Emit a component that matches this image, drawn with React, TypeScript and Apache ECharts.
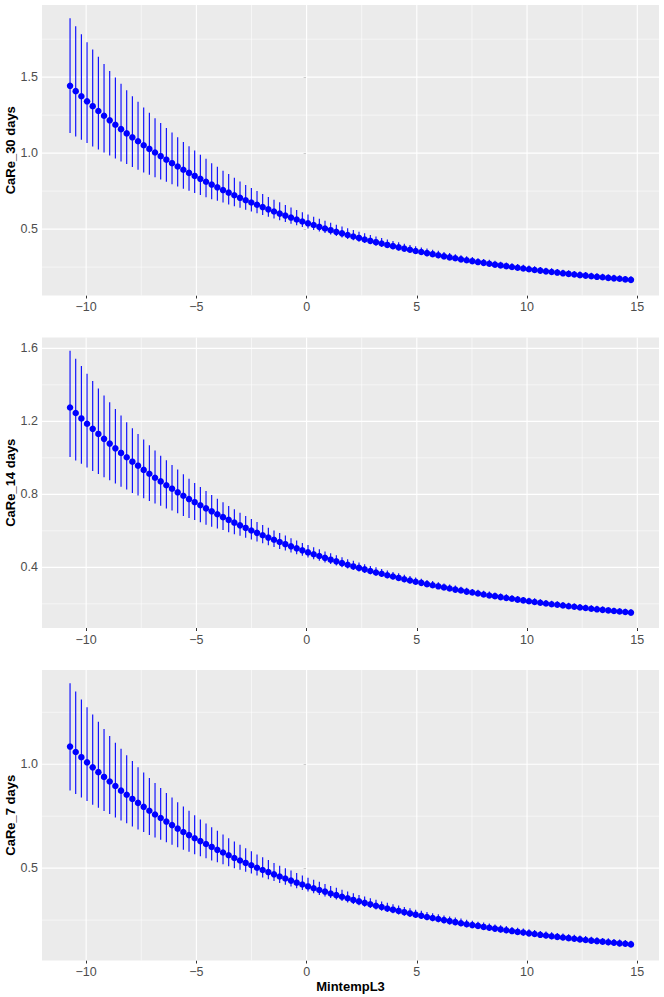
import React, { useEffect, useRef } from "react";
import * as echarts from "echarts";

const xValues = [
  -10.73, -10.473, -10.216, -9.959, -9.702, -9.445, -9.188, -8.931, -8.674, -8.417,
  -8.16, -7.903, -7.646, -7.389, -7.132, -6.875, -6.618, -6.361, -6.104, -5.847,
  -5.59, -5.333, -5.076, -4.819, -4.562, -4.305, -4.048, -3.791, -3.534, -3.277,
  -3.02, -2.763, -2.506, -2.249, -1.992, -1.735, -1.478, -1.221, -0.964, -0.707,
  -0.45, -0.193, 0.064, 0.321, 0.578, 0.835, 1.092, 1.349, 1.606, 1.863,
  2.12, 2.377, 2.634, 2.891, 3.148, 3.405, 3.662, 3.919, 4.176, 4.433,
  4.69, 4.947, 5.204, 5.461, 5.718, 5.975, 6.232, 6.489, 6.746, 7.003,
  7.26, 7.517, 7.774, 8.031, 8.288, 8.545, 8.802, 9.059, 9.316, 9.573,
  9.83, 10.087, 10.344, 10.601, 10.858, 11.115, 11.372, 11.629, 11.886, 12.143,
  12.4, 12.657, 12.914, 13.171, 13.428, 13.685, 13.942, 14.199, 14.456, 14.713,
];

const care30Mean = [
  1.443, 1.408, 1.374, 1.341, 1.309, 1.277, 1.246, 1.216, 1.187, 1.158, 1.13,
  1.104, 1.078, 1.052, 1.028, 1.004, 0.98, 0.957, 0.934, 0.912, 0.891,
  0.87, 0.85, 0.831, 0.812, 0.793, 0.775, 0.757, 0.74, 0.723, 0.706,
  0.69, 0.675, 0.66, 0.645, 0.63, 0.616, 0.602, 0.589, 0.576, 0.563,
  0.55, 0.538, 0.527, 0.515, 0.504, 0.493, 0.482, 0.472, 0.461, 0.451,
  0.442, 0.432, 0.423, 0.414, 0.405, 0.396, 0.388, 0.38, 0.372, 0.364,
  0.356, 0.349, 0.342, 0.335, 0.328, 0.321, 0.314, 0.308, 0.301, 0.295,
  0.289, 0.283, 0.278, 0.272, 0.266, 0.261, 0.256, 0.251, 0.246, 0.241,
  0.236, 0.231, 0.227, 0.222, 0.218, 0.214, 0.209, 0.205, 0.201, 0.197,
  0.194, 0.19, 0.186, 0.183, 0.179, 0.176, 0.173, 0.169, 0.166,
];
const care30Upper = [
  1.888, 1.835, 1.783, 1.73, 1.682, 1.634, 1.587, 1.541, 1.498, 1.456, 1.414,
  1.375, 1.338, 1.3, 1.265, 1.23, 1.199, 1.166, 1.136, 1.105, 1.074,
  1.046, 1.017, 0.989, 0.963, 0.934, 0.91, 0.884, 0.862, 0.838, 0.813,
  0.791, 0.77, 0.75, 0.731, 0.712, 0.694, 0.676, 0.659, 0.642, 0.626,
  0.611, 0.596, 0.582, 0.568, 0.555, 0.542, 0.529, 0.517, 0.505, 0.494,
  0.483, 0.472, 0.461, 0.451, 0.441, 0.432, 0.422, 0.413, 0.404, 0.396,
  0.388, 0.379, 0.372, 0.364, 0.357, 0.349, 0.342, 0.335, 0.328, 0.322,
  0.316, 0.309, 0.303, 0.298, 0.292, 0.286, 0.281, 0.275, 0.27, 0.265,
  0.26, 0.255, 0.251, 0.246, 0.242, 0.237, 0.233, 0.229, 0.225, 0.221,
  0.217, 0.213, 0.209, 0.206, 0.202, 0.199, 0.195, 0.192, 0.189,
];
const care30Lower = [
  1.132, 1.11, 1.088, 1.066, 1.044, 1.024, 1.004, 0.985, 0.965, 0.945, 0.928,
  0.908, 0.89, 0.873, 0.857, 0.842, 0.827, 0.811, 0.796, 0.781, 0.765,
  0.752, 0.737, 0.724, 0.71, 0.697, 0.686, 0.675, 0.662, 0.651, 0.64,
  0.628, 0.616, 0.605, 0.593, 0.581, 0.57, 0.558, 0.547, 0.536, 0.525,
  0.514, 0.504, 0.494, 0.484, 0.474, 0.464, 0.454, 0.444, 0.435, 0.426,
  0.417, 0.408, 0.4, 0.391, 0.383, 0.375, 0.367, 0.359, 0.351, 0.344,
  0.336, 0.329, 0.322, 0.316, 0.309, 0.302, 0.296, 0.29, 0.283, 0.277,
  0.271, 0.266, 0.26, 0.255, 0.249, 0.244, 0.239, 0.234, 0.229, 0.224,
  0.219, 0.215, 0.21, 0.206, 0.201, 0.197, 0.193, 0.189, 0.185, 0.181,
  0.177, 0.174, 0.17, 0.167, 0.163, 0.16, 0.156, 0.153, 0.15,
];

const care14Mean = [
  1.276, 1.246, 1.216, 1.187, 1.159, 1.131, 1.104, 1.078, 1.052, 1.027, 1.003,
  0.979, 0.957, 0.934, 0.913, 0.891, 0.871, 0.85, 0.831, 0.811, 0.792,
  0.774, 0.757, 0.74, 0.723, 0.707, 0.691, 0.675, 0.66, 0.645, 0.63,
  0.616, 0.602, 0.589, 0.576, 0.563, 0.551, 0.539, 0.527, 0.515, 0.504,
  0.493, 0.482, 0.472, 0.462, 0.452, 0.442, 0.433, 0.423, 0.414, 0.405,
  0.397, 0.389, 0.38, 0.372, 0.365, 0.357, 0.35, 0.342, 0.335, 0.328,
  0.321, 0.315, 0.308, 0.302, 0.296, 0.29, 0.284, 0.278, 0.273, 0.267,
  0.262, 0.257, 0.251, 0.246, 0.242, 0.237, 0.232, 0.228, 0.223, 0.219,
  0.214, 0.21, 0.206, 0.202, 0.198, 0.195, 0.191, 0.187, 0.184, 0.18,
  0.177, 0.173, 0.17, 0.167, 0.164, 0.161, 0.158, 0.155, 0.152,
];
const care14Upper = [
  1.587, 1.543, 1.503, 1.461, 1.421, 1.38, 1.342, 1.305, 1.267, 1.232, 1.195,
  1.162, 1.13, 1.1, 1.069, 1.04, 1.012, 0.987, 0.961, 0.936, 0.91,
  0.886, 0.862, 0.84, 0.818, 0.796, 0.776, 0.756, 0.736, 0.718, 0.699,
  0.682, 0.665, 0.648, 0.632, 0.617, 0.602, 0.588, 0.574, 0.56, 0.547,
  0.534, 0.522, 0.51, 0.499, 0.487, 0.477, 0.466, 0.455, 0.445, 0.436,
  0.426, 0.417, 0.408, 0.4, 0.391, 0.383, 0.375, 0.367, 0.359, 0.352,
  0.345, 0.338, 0.331, 0.325, 0.318, 0.312, 0.306, 0.3, 0.294, 0.288,
  0.282, 0.277, 0.272, 0.267, 0.262, 0.257, 0.252, 0.247, 0.243, 0.238,
  0.234, 0.23, 0.225, 0.221, 0.217, 0.214, 0.21, 0.206, 0.202, 0.199,
  0.195, 0.192, 0.189, 0.186, 0.182, 0.179, 0.176, 0.173, 0.17,
];
const care14Lower = [
  1.005, 0.986, 0.967, 0.947, 0.928, 0.911, 0.893, 0.877, 0.859, 0.841, 0.827,
  0.808, 0.793, 0.778, 0.764, 0.75, 0.738, 0.723, 0.711, 0.697, 0.682,
  0.671, 0.659, 0.647, 0.634, 0.623, 0.613, 0.604, 0.592, 0.582, 0.573,
  0.562, 0.552, 0.542, 0.532, 0.521, 0.511, 0.501, 0.492, 0.482, 0.472,
  0.463, 0.454, 0.445, 0.436, 0.427, 0.418, 0.41, 0.401, 0.393, 0.385,
  0.377, 0.369, 0.362, 0.354, 0.347, 0.34, 0.333, 0.326, 0.319, 0.312,
  0.306, 0.3, 0.293, 0.287, 0.281, 0.276, 0.27, 0.264, 0.259, 0.253,
  0.248, 0.243, 0.238, 0.233, 0.229, 0.224, 0.219, 0.215, 0.21, 0.206,
  0.202, 0.198, 0.194, 0.19, 0.186, 0.182, 0.178, 0.175, 0.171, 0.168,
  0.164, 0.161, 0.158, 0.155, 0.152, 0.149, 0.146, 0.143, 0.14,
];

const care7Mean = [
  1.085, 1.059, 1.034, 1.009, 0.985, 0.962, 0.939, 0.917, 0.895, 0.873, 0.853,
  0.833, 0.814, 0.795, 0.776, 0.758, 0.741, 0.724, 0.707, 0.69, 0.674,
  0.659, 0.644, 0.63, 0.616, 0.602, 0.588, 0.575, 0.562, 0.549, 0.537,
  0.525, 0.514, 0.502, 0.491, 0.481, 0.47, 0.46, 0.45, 0.44, 0.43,
  0.421, 0.412, 0.403, 0.395, 0.387, 0.378, 0.37, 0.362, 0.355, 0.347,
  0.34, 0.333, 0.326, 0.319, 0.313, 0.306, 0.3, 0.294, 0.288, 0.282,
  0.276, 0.271, 0.265, 0.26, 0.255, 0.25, 0.245, 0.24, 0.235, 0.23,
  0.226, 0.222, 0.217, 0.213, 0.209, 0.205, 0.201, 0.197, 0.193, 0.19,
  0.186, 0.183, 0.179, 0.176, 0.172, 0.169, 0.166, 0.163, 0.16, 0.157,
  0.154, 0.151, 0.149, 0.146, 0.143, 0.141, 0.138, 0.136, 0.133,
];
const care7Upper = [
  1.39, 1.35, 1.311, 1.274, 1.239, 1.204, 1.17, 1.136, 1.104, 1.074, 1.043,
  1.015, 0.986, 0.96, 0.934, 0.91, 0.886, 0.862, 0.84, 0.817, 0.797,
  0.776, 0.755, 0.734, 0.715, 0.697, 0.68, 0.662, 0.644, 0.628, 0.612,
  0.596, 0.581, 0.566, 0.552, 0.539, 0.525, 0.512, 0.5, 0.488, 0.476,
  0.465, 0.454, 0.444, 0.434, 0.424, 0.414, 0.405, 0.396, 0.387, 0.379,
  0.371, 0.363, 0.355, 0.348, 0.34, 0.333, 0.326, 0.32, 0.313, 0.307,
  0.3, 0.295, 0.289, 0.283, 0.278, 0.272, 0.267, 0.262, 0.257, 0.252,
  0.247, 0.242, 0.238, 0.234, 0.229, 0.225, 0.221, 0.217, 0.213, 0.209,
  0.206, 0.202, 0.198, 0.195, 0.192, 0.188, 0.185, 0.182, 0.179, 0.176,
  0.173, 0.17, 0.167, 0.164, 0.162, 0.159, 0.156, 0.154, 0.151,
];
const care7Lower = [
  0.874, 0.857, 0.84, 0.823, 0.805, 0.79, 0.775, 0.76, 0.744, 0.729, 0.716,
  0.7, 0.686, 0.674, 0.66, 0.648, 0.637, 0.625, 0.613, 0.601, 0.589,
  0.579, 0.567, 0.557, 0.547, 0.537, 0.528, 0.519, 0.509, 0.5, 0.492,
  0.483, 0.474, 0.465, 0.455, 0.447, 0.438, 0.429, 0.42, 0.411, 0.403,
  0.395, 0.387, 0.379, 0.371, 0.364, 0.356, 0.349, 0.342, 0.334, 0.327,
  0.321, 0.314, 0.308, 0.301, 0.295, 0.289, 0.283, 0.277, 0.271, 0.265,
  0.26, 0.255, 0.249, 0.244, 0.239, 0.234, 0.229, 0.225, 0.22, 0.215,
  0.211, 0.207, 0.202, 0.198, 0.194, 0.19, 0.186, 0.183, 0.179, 0.175,
  0.172, 0.168, 0.165, 0.161, 0.158, 0.155, 0.152, 0.149, 0.146, 0.143,
  0.14, 0.137, 0.134, 0.132, 0.129, 0.127, 0.124, 0.122, 0.119,
];

const xTicks = [-10, -5, 0, 5, 10, 15];
const xMinorTicks = [-7.5, -2.5, 2.5, 7.5, 12.5];
const care30YTicks = [0.5, 1.0, 1.5];
const care30YMinor = [0.25, 0.75, 1.25, 1.75];
const care14YTicks = [0.4, 0.8, 1.2, 1.6];
const care14YMinor = [0.2, 0.6, 1.0, 1.4];
const care7YTicks = [0.5, 1.0];
const care7YMinor = [0.25, 0.75, 1.25];

const xTitle = "MintempL3";

const panels = [
  { title: "CaRe_30 days", mean: care30Mean, lower: care30Lower, upper: care30Upper, yTicks: care30YTicks, yMinor: care30YMinor },
  { title: "CaRe_14 days", mean: care14Mean, lower: care14Lower, upper: care14Upper, yTicks: care14YTicks, yMinor: care14YMinor },
  { title: "CaRe_7 days", mean: care7Mean, lower: care7Lower, upper: care7Upper, yTicks: care7YTicks, yMinor: care7YMinor },
];

const FONT = "'Liberation Sans', Arial, Helvetica, sans-serif";
const PANEL_TOPS = [5, 337.5, 670];
const PANEL_H = 290.5;

function expand(lo: number, hi: number): [number, number] {
  const d = (hi - lo) * 0.05;
  return [lo - d, hi + d];
}

function fmtX(v: number) {
  return v < 0 ? "\u2212" + Math.abs(v) : String(v);
}

export default function App() {
  const ref = useRef<HTMLDivElement>(null);

  useEffect(() => {
    if (!ref.current) return;
    const chart = echarts.init(ref.current, null, { renderer: "svg" });
    const [xLo, xHi] = expand(Math.min(...xValues), Math.max(...xValues));

    const grid: any[] = [];
    const xAxis: any[] = [];
    const yAxis: any[] = [];
    const series: any[] = [];

    panels.forEach((p, i) => {
      const [yLo, yHi] = expand(Math.min(...p.lower), Math.max(...p.upper));
      grid.push({
        left: 42,
        top: PANEL_TOPS[i],
        width: 617,
        height: PANEL_H,
        show: true,
        backgroundColor: "#EBEBEB",
        borderWidth: 0,
        containLabel: false,
        outerBoundsMode: "none",
      });
      xAxis.push({
        type: "value",
        gridIndex: i,
        min: xLo,
        max: xHi,
        axisLine: { show: false },
        splitLine: { show: false },
        axisTick: { show: true, customValues: xTicks, length: 3, lineStyle: { color: "#333333", width: 1 } },
        axisLabel: {
          customValues: xTicks,
          formatter: (v: number) => fmtX(v),
          color: "#4D4D4D",
          fontSize: 12.5,
          fontFamily: FONT,
          margin: 5,
        },
        name: i === 2 ? xTitle : "",
        nameLocation: "middle",
        nameGap: 19,
        nameMoveOverlap: false,
        nameTextStyle: { fontWeight: "bold", fontSize: 13, color: "#000", fontFamily: FONT },
      });
      yAxis.push({
        type: "value",
        gridIndex: i,
        min: yLo,
        max: yHi,
        axisLine: { show: false },
        splitLine: { show: false },
        axisTick: { show: true, customValues: p.yTicks, length: 3, lineStyle: { color: "#333333", width: 1 } },
        axisLabel: {
          customValues: p.yTicks,
          formatter: (v: number) => v.toFixed(1),
          color: "#4D4D4D",
          fontSize: 12.5,
          fontFamily: FONT,
          margin: 4,
        },
        name: p.title,
        nameLocation: "middle",
        nameRotate: 90,
        nameGap: 25,
        nameMoveOverlap: false,
        nameTextStyle: { fontWeight: "bold", fontSize: 13, color: "#000", fontFamily: FONT },
      });

      const gridData: number[][] = [];
      xMinorTicks.forEach((v) => gridData.push([v, yLo, 0, 1]));
      p.yMinor.forEach((v) => gridData.push([xLo, v, 0, 0]));
      xTicks.forEach((v) => gridData.push([v, yLo, 1, 1]));
      p.yTicks.forEach((v) => gridData.push([xLo, v, 1, 0]));

      series.push({
        type: "custom",
        xAxisIndex: i,
        yAxisIndex: i,
        silent: true,
        z: 1,
        encode: { x: 0, y: 1 },
        data: gridData,
        renderItem: (params: any, api: any) => {
          const cs = params.coordSys;
          const major = api.value(2) === 1;
          const vertical = api.value(3) === 1;
          const pt = api.coord([api.value(0), api.value(1)]);
          const shape = vertical
            ? { x1: pt[0], y1: cs.y, x2: pt[0], y2: cs.y + cs.height }
            : { x1: cs.x, y1: pt[1], x2: cs.x + cs.width, y2: pt[1] };
          return {
            type: "line",
            shape,
            style: { stroke: "#FFFFFF", lineWidth: major ? 1.1 : 0.55 },
          };
        },
      });

      series.push({
        type: "custom",
        xAxisIndex: i,
        yAxisIndex: i,
        silent: true,
        z: 2,
        encode: { x: 0, y: [1, 2] },
        data: xValues.map((x, j) => [x, p.lower[j], p.upper[j]]),
        renderItem: (params: any, api: any) => {
          const a = api.coord([api.value(0), api.value(1)]);
          const b = api.coord([api.value(0), api.value(2)]);
          return {
            type: "line",
            shape: { x1: a[0], y1: a[1], x2: b[0], y2: b[1] },
            style: { stroke: "#0000FF", lineWidth: 1.1 },
          };
        },
      });

      series.push({
        type: "scatter",
        xAxisIndex: i,
        yAxisIndex: i,
        silent: true,
        z: 3,
        symbol: "circle",
        symbolSize: 6.5,
        itemStyle: { color: "#0000FF", opacity: 1 },
        data: xValues.map((x, j) => [x, p.mean[j]]),
      });
    });

    chart.setOption({
      animation: false,
      backgroundColor: "#FFFFFF",
      textStyle: { fontFamily: FONT },
      grid,
      xAxis,
      yAxis,
      series,
    });

    return () => {
      chart.dispose();
    };
  }, []);

  return (
    <div
      ref={ref}
      style={{ position: "absolute", left: 0, top: 0, width: 664, height: 997, background: "#fff" }}
    />
  );
}
